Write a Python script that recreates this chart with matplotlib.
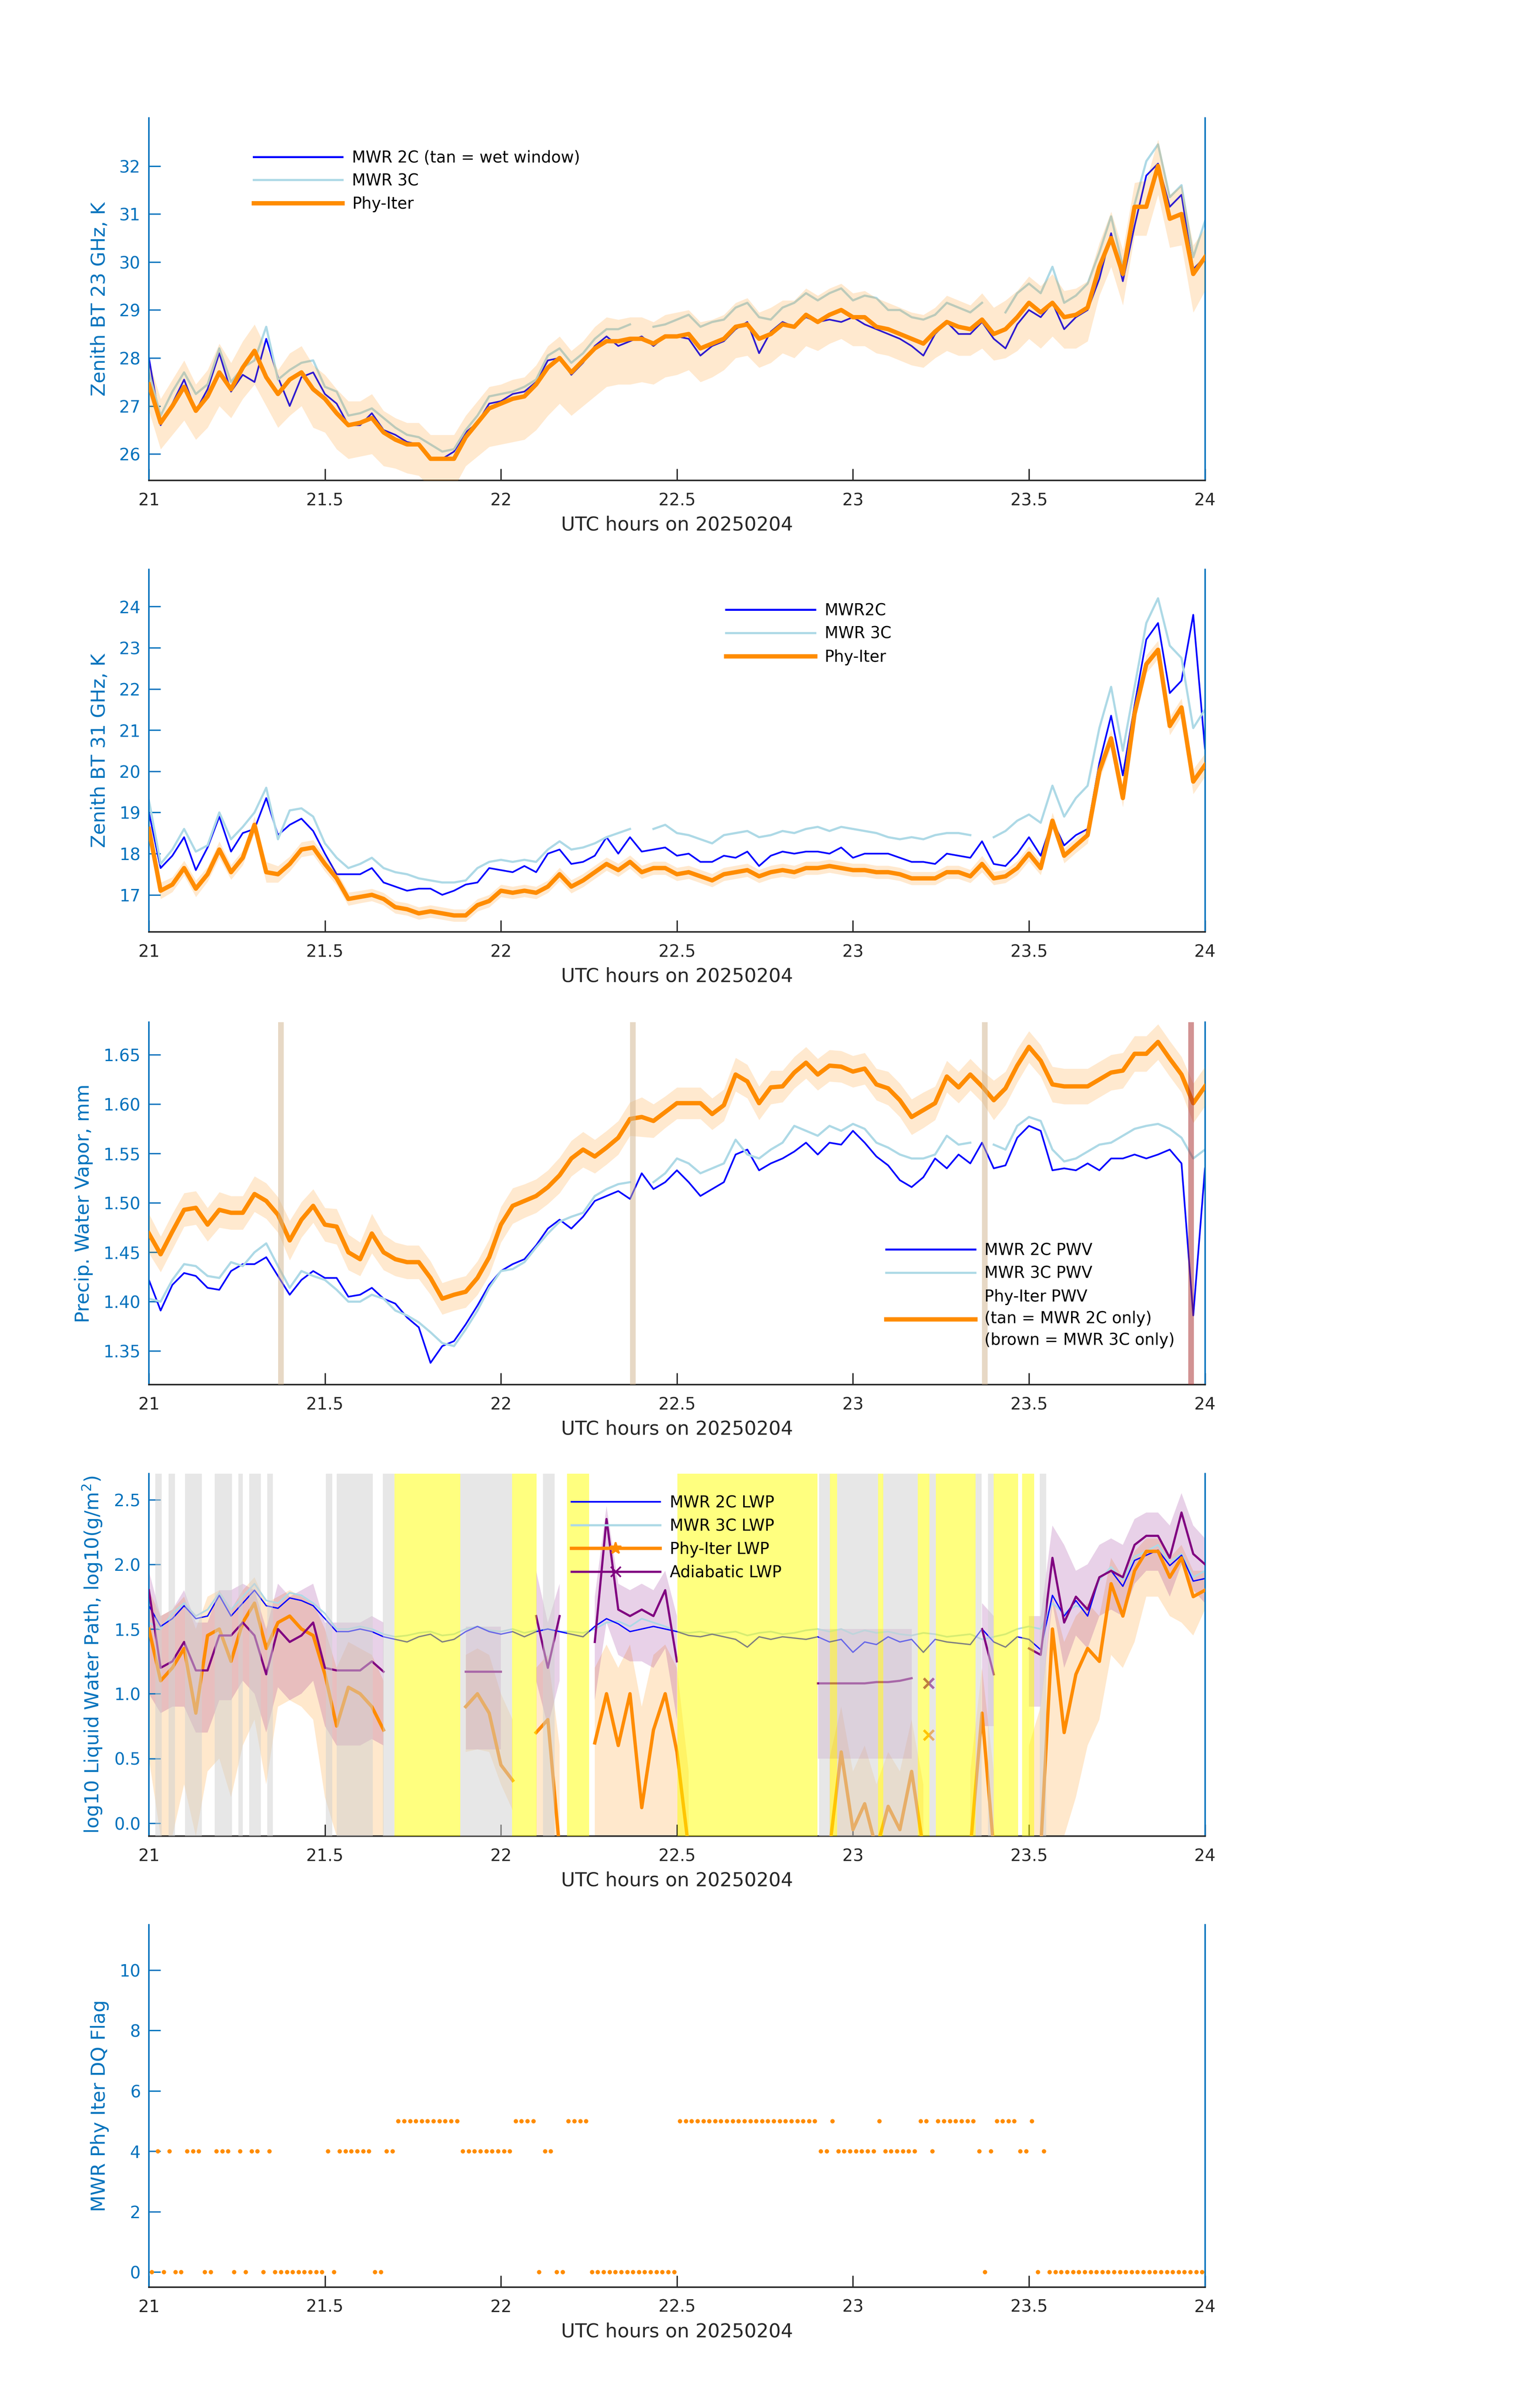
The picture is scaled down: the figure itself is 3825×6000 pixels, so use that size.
import numpy as np
import matplotlib
matplotlib.use("Agg")
import matplotlib.pyplot as plt
from matplotlib.lines import Line2D

nan = np.nan

# 2 minute time grid, 21 to 24 UTC
minutes = np.arange(0, 181, 2)
hours = 21 + minutes / 60.0

# ---- panel 1 : 23 GHz brightness temperature (K)
bt23_2c = [28.0, 26.6, 27.05, 27.55, 26.9, 27.35, 28.1, 27.3, 27.65, 27.5, 28.4,
           27.6, 27.0, 27.6, 27.7, 27.25, 27.05, 26.6, 26.6, 26.85, 26.5,
           26.4, 26.25, 26.2, 25.9, 25.9, 26.05, 26.45, 26.65, 27.05, 27.1,
           27.25, 27.3, 27.5, 27.95, 28.0, 27.65, 27.9, 28.25, 28.45, 28.25, 28.35, 28.45, 28.25, 28.45, 28.45,
           28.4, 28.05, 28.25, 28.35, 28.6, 28.75, 28.1, 28.55, 28.75, 28.65, 28.85, 28.75, 28.8, 28.75, 28.85,
           28.7, 28.6, 28.5, 28.4, 28.25, 28.05, 28.5, 28.75, 28.5, 28.5, 28.75, 28.4, 28.2, 28.7, 29.0,
           28.85, 29.15, 28.6, 28.85, 29.0, 29.65, 30.6, 29.6, 30.75, 31.8, 32.05, 31.15, 31.4, 29.85, 30.1]
bt23_3c = [27.7, 26.8, 27.3, 27.7, 27.25, 27.45, 28.2, 27.5, 27.8, 27.95, 28.65,
           27.55, 27.75, 27.9, 27.95, 27.4, 27.3, 26.8, 26.85, 26.95, 26.75,
           26.55, 26.4, 26.35, 26.2, 26.05, 26.1, 26.5, 26.8, 27.2, 27.25,
           27.3, 27.4, 27.55, 28.05, 28.2, 27.9, 28.1, 28.4, 28.6, 28.6, 28.7, nan, 28.65, 28.7, 28.8,
           28.9, 28.65, 28.75, 28.8, 29.05, 29.15, 28.85, 28.8, 29.05, 29.15, 29.35, 29.2, 29.35, 29.45, 29.2,
           29.3, 29.25, 29.0, 29.0, 28.85, 28.8, 28.9, 29.15, 29.05, 28.95, 29.15, nan, 28.95, 29.35, 29.55,
           29.35, 29.9, 29.15, 29.3, 29.55, 30.2, 30.95, 29.9, 31.2, 32.1, 32.45, 31.35, 31.6, 30.1, 30.85]
bt23_phy = [27.45, 26.65, 27.0, 27.4, 26.9, 27.2, 27.7, 27.35, 27.8, 28.15, 27.6,
            27.25, 27.55, 27.7, 27.35, 27.15, 26.85, 26.6, 26.65, 26.75, 26.45,
            26.3, 26.2, 26.2, 25.9, 25.9, 25.9, 26.35, 26.65, 26.95, 27.05,
            27.15, 27.2, 27.45, 27.8, 28.0, 27.7, 27.95, 28.2, 28.35, 28.35, 28.4, 28.4, 28.3, 28.45, 28.45,
            28.5, 28.2, 28.3, 28.4, 28.65, 28.7, 28.4, 28.5, 28.7, 28.65, 28.9, 28.75, 28.9, 29.0, 28.85,
            28.85, 28.65, 28.6, 28.5, 28.4, 28.3, 28.55, 28.75, 28.65, 28.6, 28.8, 28.5, 28.6, 28.85, 29.15,
            28.95, 29.15, 28.85, 28.9, 29.05, 29.9, 30.5, 29.75, 31.15, 31.15, 32.0, 30.9, 31.0, 29.75, 30.1]
bt23_dn = [0.55, 0.55, 0.6, 0.7, 0.6, 0.65, 0.7, 0.6, 0.65, 0.7, 0.6,
           0.7, 0.75, 0.7, 0.8, 0.7, 0.75, 0.7, 0.7, 0.75, 0.7,
           0.6, 0.6, 0.65, 0.6, 0.6, 0.6, 0.6, 0.7, 0.8, 0.85,
           0.9, 0.9, 0.95, 1.0, 0.95, 0.9, 0.95, 1.0, 0.95, 0.9, 0.95, 0.9, 0.85, 0.85, 0.8,
           0.75, 0.7, 0.7, 0.65, 0.65, 0.65, 0.6, 0.6, 0.6, 0.65, 0.65, 0.6, 0.6, 0.6, 0.6,
           0.6, 0.55, 0.55, 0.55, 0.55, 0.5, 0.55, 0.6, 0.6, 0.55, 0.6, 0.55, 0.6, 0.7, 0.75,
           0.75, 0.7, 0.65, 0.7, 0.7, 0.6, 0.6, 0.65, 0.6, 0.6, 0.6, 0.6, 0.65, 0.8, 0.7]
bt23_up = [0.5, 0.5, 0.55, 0.55, 0.55, 0.55, 0.6, 0.55, 0.55, 0.55, 0.6,
           0.5, 0.55, 0.55, 0.5, 0.5, 0.5, 0.5, 0.45, 0.5, 0.45,
           0.45, 0.45, 0.45, 0.5, 0.5, 0.5, 0.45, 0.45, 0.45, 0.4,
           0.4, 0.4, 0.4, 0.45, 0.45, 0.45, 0.4, 0.45, 0.5, 0.45, 0.45, 0.45, 0.45, 0.45, 0.5,
           0.5, 0.55, 0.5, 0.5, 0.5, 0.55, 0.55, 0.55, 0.5, 0.55, 0.55, 0.55, 0.55, 0.55, 0.5,
           0.55, 0.6, 0.55, 0.55, 0.55, 0.6, 0.5, 0.55, 0.55, 0.5, 0.55, 0.55, 0.6, 0.55, 0.55,
           0.55, 0.6, 0.55, 0.55, 0.55, 0.5, 0.55, 0.5, 0.5, 0.55, 0.55, 0.5, 0.6, 0.6, 0.6]

# ---- panel 2 : 31 GHz brightness temperature (K)
bt31_2c = [19.0, 17.65, 17.95, 18.4, 17.6, 18.15, 18.9, 18.05, 18.5, 18.6, 19.35,
           18.45, 18.7, 18.85, 18.55, 18.0, 17.5, 17.5, 17.5, 17.65, 17.3,
           17.2, 17.1, 17.15, 17.15, 17.0, 17.1, 17.25, 17.3, 17.65, 17.6,
           17.55, 17.7, 17.55, 18.0, 18.1, 17.75, 17.8, 17.95, 18.4, 18.0, 18.4, 18.05, 18.1, 18.15, 17.95,
           18.0, 17.8, 17.8, 17.95, 17.9, 18.05, 17.7, 17.95, 18.05, 18.0, 18.05, 18.05, 18.0, 18.15, 17.9,
           18.0, 18.0, 18.0, 17.9, 17.8, 17.8, 17.75, 18.0, 17.95, 17.9, 18.3, 17.75, 17.7, 18.0, 18.4,
           17.95, 18.8, 18.2, 18.45, 18.6, 20.2, 21.35, 19.9, 21.6, 23.2, 23.6, 21.9, 22.2, 23.8, 20.55]
bt31_3c = [19.3, 17.75, 18.1, 18.6, 18.05, 18.2, 19.0, 18.35, 18.65, 19.0, 19.6,
           18.35, 19.05, 19.1, 18.9, 18.25, 17.9, 17.65, 17.75, 17.9, 17.65,
           17.55, 17.5, 17.4, 17.35, 17.3, 17.3, 17.35, 17.65, 17.8, 17.85,
           17.8, 17.85, 17.8, 18.1, 18.3, 18.1, 18.15, 18.25, 18.4, 18.5, 18.6, nan, 18.6, 18.7, 18.5,
           18.45, 18.35, 18.25, 18.45, 18.5, 18.55, 18.4, 18.45, 18.55, 18.5, 18.6, 18.65, 18.55, 18.65, 18.6,
           18.55, 18.5, 18.4, 18.35, 18.4, 18.35, 18.45, 18.5, 18.5, 18.45, nan, 18.4, 18.55, 18.8, 18.95,
           18.75, 19.65, 18.9, 19.35, 19.65, 21.05, 22.05, 20.5, 22.05, 23.6, 24.2, 23.05, 22.75, 21.05, 21.5]
bt31_phy = [18.6, 17.1, 17.25, 17.65, 17.15, 17.5, 18.1, 17.55, 17.9, 18.7, 17.55,
            17.5, 17.75, 18.1, 18.15, 17.75, 17.4, 16.9, 16.95, 17.0, 16.9,
            16.7, 16.65, 16.55, 16.6, 16.55, 16.5, 16.5, 16.75, 16.85, 17.1,
            17.05, 17.1, 17.05, 17.2, 17.5, 17.2, 17.35, 17.55, 17.75, 17.6, 17.8, 17.55, 17.65, 17.65, 17.5,
            17.55, 17.45, 17.35, 17.5, 17.55, 17.6, 17.45, 17.55, 17.6, 17.55, 17.65, 17.65, 17.7, 17.65, 17.6,
            17.6, 17.55, 17.55, 17.5, 17.4, 17.4, 17.4, 17.55, 17.55, 17.45, 17.75, 17.4, 17.45, 17.65, 18.0,
            17.65, 18.8, 17.95, 18.2, 18.45, 20.0, 20.8, 19.35, 21.4, 22.6, 22.95, 21.1, 21.55, 19.75, 20.15]
bt31_unc = [0.25, 0.2, 0.18, 0.18, 0.2, 0.18, 0.2, 0.18, 0.18, 0.2, 0.25,
            0.2, 0.18, 0.18, 0.18, 0.18, 0.17, 0.16, 0.15, 0.15, 0.15,
            0.15, 0.15, 0.15, 0.15, 0.15, 0.15, 0.15, 0.15, 0.15, 0.15,
            0.15, 0.15, 0.15, 0.15, 0.16, 0.16, 0.16, 0.16, 0.16, 0.16, 0.16, 0.16, 0.16, 0.16, 0.16,
            0.16, 0.16, 0.16, 0.16, 0.16, 0.16, 0.16, 0.16, 0.16, 0.16, 0.16, 0.16, 0.16, 0.16, 0.16,
            0.16, 0.16, 0.16, 0.16, 0.16, 0.16, 0.16, 0.16, 0.16, 0.16, 0.2, 0.16, 0.16, 0.17, 0.18,
            0.17, 0.2, 0.18, 0.18, 0.2, 0.22, 0.22, 0.22, 0.22, 0.22, 0.22, 0.22, 0.22, 0.3, 0.28]

# ---- panel 3 : precipitable water vapour (mm)
pwv_2c = [1.422, 1.391, 1.417, 1.429, 1.426, 1.414, 1.412, 1.431, 1.438, 1.438, 1.445,
          1.426, 1.407, 1.422, 1.431, 1.424, 1.424, 1.405, 1.407, 1.414, 1.403,
          1.398, 1.384, 1.374, 1.338, 1.355, 1.360, 1.377, 1.396, 1.417, 1.431,
          1.438, 1.443, 1.457, 1.474, 1.483, 1.474, 1.486, 1.502, 1.507, 1.512, 1.504, 1.530, 1.514, 1.521, 1.533,
          1.521, 1.507, 1.514, 1.521, 1.549, 1.554, 1.533, 1.540, 1.545, 1.552, 1.561, 1.549, 1.561, 1.559, 1.573,
          1.561, 1.547, 1.538, 1.523, 1.516, 1.526, 1.545, 1.535, 1.549, 1.540, 1.561, 1.535, 1.538, 1.566, 1.578,
          1.573, 1.533, 1.535, 1.533, 1.540, 1.533, 1.545, 1.545, 1.549, 1.545, 1.549, 1.554, 1.540, 1.386, 1.535]
pwv_3c = [1.403, 1.400, 1.422, 1.438, 1.436, 1.426, 1.424, 1.440, 1.436, 1.450, 1.459,
          1.436, 1.414, 1.431, 1.426, 1.422, 1.412, 1.400, 1.400, 1.407, 1.403,
          1.391, 1.386, 1.379, 1.369, 1.358, 1.355, 1.372, 1.391, 1.414, 1.431,
          1.433, 1.440, 1.455, 1.469, 1.481, 1.486, 1.490, 1.507, 1.514, 1.519, 1.521, nan, 1.521, 1.530, 1.545,
          1.540, 1.530, 1.535, 1.540, 1.564, 1.549, 1.545, 1.554, 1.561, 1.578, 1.573, 1.568, 1.578, 1.573, 1.580,
          1.575, 1.561, 1.556, 1.549, 1.545, 1.545, 1.549, 1.568, 1.559, 1.561, nan, 1.559, 1.554, 1.578, 1.587,
          1.583, 1.554, 1.542, 1.545, 1.552, 1.559, 1.561, 1.568, 1.575, 1.578, 1.580, 1.575, 1.566, 1.545, 1.554]
pwv_phy = [1.469, 1.448, 1.471, 1.493, 1.495, 1.478, 1.493, 1.490, 1.490, 1.509, 1.502,
           1.488, 1.462, 1.483, 1.497, 1.478, 1.476, 1.450, 1.443, 1.469, 1.450,
           1.443, 1.440, 1.440, 1.424, 1.403, 1.407, 1.410, 1.424, 1.445, 1.478,
           1.497, 1.502, 1.507, 1.516, 1.528, 1.545, 1.554, 1.547, 1.556, 1.566, 1.585, 1.587, 1.583, 1.592, 1.601,
           1.601, 1.601, 1.590, 1.599, 1.630, 1.623, 1.601, 1.617, 1.618, 1.632, 1.642, 1.630, 1.639, 1.638, 1.633,
           1.636, 1.620, 1.616, 1.604, 1.587, 1.594, 1.601, 1.628, 1.617, 1.630, 1.618, 1.604, 1.616, 1.639, 1.658,
           1.644, 1.620, 1.618, 1.618, 1.618, 1.625, 1.632, 1.634, 1.651, 1.651, 1.663, 1.646, 1.630, 1.601, 1.618]
pwv_unc = [0.02, 0.018, 0.018, 0.017, 0.017, 0.017, 0.018, 0.017, 0.017, 0.018, 0.018,
           0.018, 0.02, 0.018, 0.017, 0.017, 0.018, 0.018, 0.017, 0.02, 0.018,
           0.017, 0.017, 0.017, 0.017, 0.016, 0.016, 0.016, 0.017, 0.018, 0.018,
           0.018, 0.017, 0.017, 0.017, 0.018, 0.018, 0.018, 0.017, 0.017, 0.017, 0.017, 0.02, 0.017, 0.016, 0.016,
           0.016, 0.016, 0.016, 0.016, 0.017, 0.017, 0.017, 0.017, 0.016, 0.016, 0.016, 0.016, 0.016, 0.016, 0.016,
           0.016, 0.016, 0.017, 0.017, 0.018, 0.018, 0.017, 0.016, 0.016, 0.016, 0.016, 0.02, 0.017, 0.017, 0.016,
           0.016, 0.018, 0.018, 0.018, 0.018, 0.018, 0.018, 0.018, 0.018, 0.018, 0.018, 0.018, 0.018, 0.02, 0.02]
tan_spans = [(21.367, 21.383), (22.367, 22.383), (23.367, 23.383)]
brown_spans = [(23.952, 23.968)]

# ---- panel 4 : log10 liquid water path
lwp_2c = [1.68, 1.52, 1.58, 1.68, 1.58, 1.60, 1.76, 1.60, 1.70, 1.80, 1.68,
          1.66, 1.74, 1.72, 1.68, 1.58, 1.48, 1.48, 1.50, 1.48, 1.44,
          1.42, 1.40, 1.44, 1.46, 1.40, 1.42, 1.48, 1.52, 1.48, 1.46,
          1.48, 1.44, 1.48, 1.50, 1.48, 1.46, 1.44, 1.52, 1.58, 1.54, 1.48, 1.50, 1.52, 1.50, 1.48,
          1.45, 1.44, 1.46, 1.44, 1.42, 1.36, 1.44, 1.42, 1.44, 1.43, 1.42, 1.44, 1.40, 1.42, 1.32,
          1.40, 1.38, 1.44, 1.40, 1.42, 1.32, 1.42, 1.40, 1.39, 1.38, 1.50, 1.40, 1.36, 1.44, 1.42,
          1.34, 1.76, 1.60, 1.72, 1.60, 1.90, 1.95, 1.83, 2.03, 2.07, 2.11, 1.99, 2.07, 1.87, 1.89]
lwp_3c = [1.55, 1.50, 1.62, 1.70, 1.60, 1.65, 1.78, 1.65, 1.75, 1.85, 1.72,
          1.70, 1.78, 1.76, 1.70, 1.62, 1.50, 1.50, 1.52, 1.50, 1.46,
          1.44, 1.45, 1.47, 1.48, 1.45, 1.46, 1.50, 1.52, 1.49, 1.48,
          1.50, 1.47, 1.49, 1.50, 1.48, 1.48, 1.47, 1.50, 1.55, 1.56, 1.52, 1.58, 1.55, 1.52, 1.48,
          1.47, 1.48, 1.46, 1.47, 1.48, 1.45, 1.47, 1.48, 1.46, 1.47, 1.49, 1.50, 1.48, 1.50, 1.46,
          1.49, 1.47, 1.48, 1.46, 1.45, 1.47, 1.46, 1.44, 1.45, 1.46, 1.42, 1.44, 1.46, 1.50, 1.52,
          1.50, 1.70, 1.62, 1.68, 1.65, 1.88, 1.98, 1.88, 2.06, 2.10, 2.15, 2.02, 2.08, 1.90, 1.95]
lwp_phy = [1.50, 1.10, 1.20, 1.35, 0.85, 1.45, 1.50, 1.25, 1.55, 1.70, 1.35,
           1.55, 1.60, 1.50, 1.45, 1.15, 0.75, 1.05, 1.00, 0.90, 0.72,
           nan, nan, nan, nan, nan, nan, 0.90, 1.00, 0.85, 0.45,
           0.33, nan, 0.70, 0.80, -0.2, nan, nan, 0.62, 1.00, 0.60, 1.00, 0.12, 0.72, 1.00, 0.55,
           -0.2, nan, nan, nan, nan, nan, nan, nan, nan, nan, nan, nan, -0.2, 0.55, -0.05,
           0.15, -0.2, 0.13, -0.05, 0.40, -0.2, nan, nan, nan, -0.2, 0.85, -0.2, nan, nan, -0.2,
           -0.2, 1.50, 0.70, 1.15, 1.35, 1.25, 1.85, 1.60, 1.95, 2.10, 2.10, 1.90, 2.05, 1.75, 1.80]
lwp_phy_lo = [0.5, -0.1, -0.1, 0.3, -0.1, 0.4, 0.5, 0.2, 0.6, 0.8, 0.3,
              0.9, 0.95, 0.9, 0.8, 0.2, -0.1, -0.1, -0.1, -0.1, -0.1,
              nan, nan, nan, nan, nan, nan, 0.55, 0.57, 0.55, 0.3,
              0.1, nan, -0.1, -0.1, -0.1, nan, nan, -0.1, -0.1, -0.1, -0.1, -0.1, -0.1, -0.1, -0.1,
              -0.1, nan, nan, nan, nan, nan, nan, nan, nan, nan, nan, nan, -0.1, -0.1, -0.1,
              -0.1, -0.1, -0.1, -0.1, -0.1, -0.1, nan, nan, nan, -0.1, -0.1, -0.1, nan, nan, -0.1,
              -0.1, -0.1, -0.1, 0.2, 0.6, 0.8, 1.3, 1.2, 1.4, 1.75, 1.75, 1.6, 1.55, 1.45, 1.65]
lwp_phy_hi = [1.8, 1.6, 1.65, 1.75, 1.5, 1.75, 1.8, 1.65, 1.8, 1.9, 1.7,
              1.75, 1.8, 1.75, 1.7, 1.5, 1.2, 1.4, 1.35, 1.3, 1.1,
              nan, nan, nan, nan, nan, nan, 1.3, 1.35, 1.3, 1.0,
              0.8, nan, 1.2, 1.3, 0.6, nan, nan, 1.2, 1.38, 1.2, 1.38, 0.9, 1.3, 1.38, 1.2,
              0.4, nan, nan, nan, nan, nan, nan, nan, nan, nan, nan, nan, 0.5, 0.9, 0.4,
              0.6, 0.3, 0.55, 0.4, 0.8, 0.3, nan, nan, nan, 0.4, 1.2, 0.4, nan, nan, 0.6,
              0.9, 1.75, 1.4, 1.6, 1.7, 1.6, 2.05, 1.9, 2.1, 2.2, 2.2, 2.05, 2.15, 1.95, 1.95]
lwp_adi = [1.80, 1.20, 1.25, 1.40, 1.18, 1.18, 1.45, 1.45, 1.55, 1.45, 1.15,
           1.50, 1.40, 1.45, 1.55, 1.20, 1.18, 1.18, 1.18, 1.25, 1.17,
           nan, nan, nan, nan, nan, nan, 1.17, 1.17, 1.17, 1.17,
           nan, nan, 1.60, 1.20, 1.60, nan, nan, 1.40, 2.35, 1.65, 1.60, 1.65, 1.60, 1.80, 1.25,
           nan, nan, nan, nan, nan, nan, nan, nan, nan, nan, nan, 1.08, 1.08, 1.08, 1.08,
           1.08, 1.09, 1.09, 1.10, 1.12, nan, nan, nan, nan, nan, 1.50, 1.15, nan, nan, 1.35,
           1.30, 2.05, 1.55, 1.75, 1.65, 1.90, 1.95, 1.90, 2.15, 2.22, 2.22, 2.05, 2.40, 2.08, 2.00]
lwp_adi_lo = [1.0, 0.85, 0.9, 0.9, 0.7, 0.7, 0.95, 0.95, 1.1, 1.0, 0.7,
              1.05, 0.95, 1.0, 1.1, 0.75, 0.6, 0.6, 0.6, 0.65, 0.6,
              nan, nan, nan, nan, nan, nan, 0.57, 0.57, 0.57, 0.57,
              nan, nan, 1.1, 0.75, 1.1, nan, nan, 0.95, 1.55, 1.3, 1.25, 1.25, 1.2, 1.35, 0.8,
              nan, nan, nan, nan, nan, nan, nan, nan, nan, nan, nan, 0.5, 0.5, 0.5, 0.5,
              0.5, 0.5, 0.5, 0.5, 0.5, nan, nan, nan, nan, nan, 0.75, 0.75, nan, nan, 0.9,
              0.9, 1.7, 1.2, 1.45, 1.35, 1.6, 1.65, 1.6, 1.85, 1.95, 1.95, 1.75, 2.0, 1.8, 1.7]
lwp_adi_hi = [1.95, 1.6, 1.65, 1.8, 1.55, 1.55, 1.8, 1.8, 1.85, 1.8, 1.5,
              1.85, 1.75, 1.8, 1.85, 1.55, 1.55, 1.55, 1.55, 1.6, 1.55,
              nan, nan, nan, nan, nan, nan, 1.52, 1.52, 1.52, 1.52,
              nan, nan, 1.95, 1.55, 1.85, nan, nan, 1.75, 2.45, 1.85, 1.8, 1.85, 1.8, 1.95, 1.6,
              nan, nan, nan, nan, nan, nan, nan, nan, nan, nan, nan, 1.5, 1.5, 1.5, 1.5,
              1.5, 1.5, 1.5, 1.5, 1.5, nan, nan, nan, nan, nan, 1.7, 1.6, nan, nan, 1.6,
              1.6, 2.3, 2.15, 1.95, 2.0, 2.15, 2.2, 2.15, 2.35, 2.4, 2.4, 2.3, 2.55, 2.3, 2.2]
single_time = [23.215]
single_phy = [0.68]
single_adi = [1.08]
gray_spans = [(21.018, 21.036), (21.056, 21.074), (21.103, 21.151), (21.187, 21.236),
              (21.254, 21.267), (21.285, 21.318), (21.336, 21.352), (21.503, 21.521),
              (21.534, 21.636), (21.665, 21.698), (21.885, 22.032), (22.119, 22.152),
              (22.904, 22.935), (22.955, 23.071), (23.086, 23.184), (23.217, 23.235),
              (23.348, 23.366), (23.384, 23.400), (23.531, 23.549)]
yellow_spans = [(21.698, 21.885), (22.032, 22.101), (22.188, 22.250), (22.501, 22.899),
                (22.935, 22.955), (23.071, 23.086), (23.184, 23.217), (23.235, 23.348),
                (23.400, 23.469), (23.481, 23.515)]

# ---- panel 5 : DQ flag, one value per minute
dq_flag = [0, 4, 0, 4, 0, 0, 4, 4, 4, 0, 0, 4, 4, 4, 0, 4, 0, 4, 4, 0,
           4, 0, 0, 0, 0, 0, 0, 0, 0, 0, 4, 0, 4, 4, 4, 4, 4, 4, 0, 0,
           4, 4, 5, 5, 5, 5, 5, 5, 5, 5, 5, 5, 5, 4, 4, 4, 4, 4, 4, 4,
           4, 4, 5, 5, 5, 5, 0, 4, 4, 0, 0, 5, 5, 5, 5, 0, 0, 0, 0, 0,
           0, 0, 0, 0, 0, 0, 0, 0, 0, 0, 5, 5, 5, 5, 5, 5, 5, 5, 5, 5,
           5, 5, 5, 5, 5, 5, 5, 5, 5, 5, 5, 5, 5, 5, 4, 4, 5, 4, 4, 4,
           4, 4, 4, 4, 5, 4, 4, 4, 4, 4, 4, 5, 5, 4, 5, 5, 5, 5, 5, 5,
           5, 4, 0, 4, 5, 5, 5, 5, 4, 4, 5, 0, 4, 0, 0, 0, 0, 0, 0, 0,
           0, 0, 0, 0, 0, 0, 0, 0, 0, 0, 0, 0, 0, 0, 0, 0, 0, 0, 0, 0]
dq_hours = 21 + (np.arange(len(dq_flag)) + 0.5) / 60.0

# colours
c_2c = (0, 0, 1)
c_3c = (0.68, 0.85, 0.90)
c_phy = (1.0, 0.55, 0.0)
c_adi = (0.5, 0.0, 0.5)
axis_blue = (0, 0.447, 0.741)
dark = (0.15, 0.15, 0.15)

xticks = [21, 21.5, 22, 22.5, 23, 23.5, 24]
xticklabels = ['21', '21.5', '22', '22.5', '23', '23.5', '24']


def style_axis(ax, ylim, yticks, ylabel):
    ax.set_xlim(21, 24)
    ax.set_ylim(*ylim)
    ax.set_xticks(xticks)
    ax.set_xticklabels(xticklabels)
    ax.set_yticks(yticks)
    ax.spines['top'].set_visible(False)
    ax.spines['left'].set_color(axis_blue)
    ax.spines['right'].set_color(axis_blue)
    ax.spines['bottom'].set_color(dark)
    for s in ax.spines.values():
        s.set_linewidth(0.9)
    ax.tick_params(axis='x', direction='in', length=7, width=0.8, colors=dark,
                   labelsize=10, pad=7)
    ax.tick_params(axis='y', direction='in', length=7, width=0.8, colors=axis_blue,
                   labelsize=10, pad=5)
    ax.set_xlabel('UTC hours on 20250204', fontsize=11.5, color=dark, labelpad=4)
    ax.set_ylabel(ylabel, fontsize=11.5, color=axis_blue, labelpad=6)


def add_legend(ax, handles, labels, x, y):
    leg = ax.legend(handles, labels, loc='upper left', bbox_to_anchor=(x, y),
                    frameon=False, fontsize=9.5, handlelength=5.6, handletextpad=0.6,
                    labelspacing=0.45, borderpad=0, borderaxespad=0)
    leg.set_zorder(20)
    return leg


fig = plt.figure(figsize=(12.75, 20), dpi=300)
left = 0.097
width = 0.688
height = 0.1505
bottoms = [0.8005, 0.613, 0.425, 0.2375, 0.0502]
axes = [fig.add_axes([left, b, width, height]) for b in bottoms]

# panel 1
ax = axes[0]
ax.plot(hours, bt23_2c, color=c_2c, lw=1.0, zorder=2)
ax.plot(hours, bt23_3c, color=c_3c, lw=1.3, zorder=2)
ax.fill_between(hours, np.array(bt23_phy) - np.array(bt23_dn), np.array(bt23_phy) + np.array(bt23_up),
                color=c_phy, alpha=0.19, lw=0, zorder=3)
ax.plot(hours, bt23_phy, color=c_phy, lw=2.6, zorder=4)
style_axis(ax, (25.45, 33.0), [26, 27, 28, 29, 30, 31, 32], 'Zenith BT 23 GHz, K')
add_legend(ax, [Line2D([], [], color=c_2c, lw=1.2), Line2D([], [], color=c_3c, lw=1.3),
                Line2D([], [], color=c_phy, lw=2.6)],
           ['MWR 2C (tan = wet window)', 'MWR 3C', 'Phy-Iter'], 0.099, 0.912)

# panel 2
ax = axes[1]
ax.plot(hours, bt31_2c, color=c_2c, lw=1.0, zorder=2)
ax.plot(hours, bt31_3c, color=c_3c, lw=1.3, zorder=2)
ax.fill_between(hours, np.array(bt31_phy) - np.array(bt31_unc), np.array(bt31_phy) + np.array(bt31_unc),
                color=c_phy, alpha=0.19, lw=0, zorder=3)
ax.plot(hours, bt31_phy, color=c_phy, lw=2.6, zorder=4)
style_axis(ax, (16.1, 24.9), [17, 18, 19, 20, 21, 22, 23, 24], 'Zenith BT 31 GHz, K')
add_legend(ax, [Line2D([], [], color=c_2c, lw=1.2), Line2D([], [], color=c_3c, lw=1.3),
                Line2D([], [], color=c_phy, lw=2.6)],
           ['MWR2C', 'MWR 3C', 'Phy-Iter'], 0.5465, 0.908)

# panel 3
ax = axes[2]
ax.plot(hours, pwv_2c, color=c_2c, lw=1.0, zorder=2)
ax.plot(hours, pwv_3c, color=c_3c, lw=1.3, zorder=2)
ax.fill_between(hours, np.array(pwv_phy) - np.array(pwv_unc), np.array(pwv_phy) + np.array(pwv_unc),
                color=c_phy, alpha=0.19, lw=0, zorder=3)
ax.plot(hours, pwv_phy, color=c_phy, lw=2.6, zorder=4)
for a, b in tan_spans:
    ax.axvspan(a, b, color=(0.82, 0.70, 0.55), alpha=0.5, lw=0, zorder=5)
for a, b in brown_spans:
    ax.axvspan(a, b, color=(0.65, 0.16, 0.16), alpha=0.5, lw=0, zorder=5)
style_axis(ax, (1.316, 1.683), [1.35, 1.4, 1.45, 1.5, 1.55, 1.6, 1.65], 'Precip. Water Vapor, mm')
leg = add_legend(ax, [Line2D([], [], color=c_2c, lw=1.2), Line2D([], [], color=c_3c, lw=1.3),
                      Line2D([], [], color=c_phy, lw=2.6)],
                 ['MWR 2C PWV', 'MWR 3C PWV', 'Phy-Iter PWV\n(tan = MWR 2C only)\n(brown = MWR 3C only)'],
                 0.698, 0.392)
leg.get_texts()[2].set_linespacing(1.45)

# panel 4
ax = axes[3]
ax.fill_between(hours, lwp_phy_lo, lwp_phy_hi, color=c_phy, alpha=0.2, lw=0, zorder=1)
ax.fill_between(hours, lwp_adi_lo, lwp_adi_hi, color=c_adi, alpha=0.18, lw=0, zorder=1)
ax.plot(hours, lwp_3c, color=c_3c, lw=1.0, zorder=2)
ax.plot(hours, lwp_2c, color=c_2c, lw=0.8, zorder=2)
ax.plot(hours, lwp_phy, color=c_phy, lw=2.0, zorder=3)
ax.plot(hours, lwp_adi, color=c_adi, lw=1.3, zorder=3)
ax.plot(single_time, single_phy, 'x', color=c_phy, ms=6, mew=1.5, zorder=3)
ax.plot(single_time, single_adi, 'x', color=c_adi, ms=6, mew=1.5, zorder=3)
for a, b in gray_spans:
    ax.axvspan(a, b, color=(0.82, 0.82, 0.82), alpha=0.5, lw=0, zorder=5)
for a, b in yellow_spans:
    ax.axvspan(a, b, color=(1.0, 1.0, 0.0), alpha=0.5, lw=0, zorder=5)
style_axis(ax, (-0.1, 2.7), [0, 0.5, 1, 1.5, 2, 2.5], 'log10 Liquid Water Path, log10(g/m$^2$)')
add_legend(ax, [Line2D([], [], color=c_2c, lw=1.0), Line2D([], [], color=c_3c, lw=1.3),
                Line2D([], [], color=c_phy, lw=2.0, marker='*', ms=7, markevery=[1]),
                Line2D([], [], color=c_adi, lw=1.3, marker='x', ms=6, markevery=[1])],
           ['MWR 2C LWP', 'MWR 3C LWP', 'Phy-Iter LWP', 'Adiabatic LWP'], 0.40, 0.941)

# panel 5
ax = axes[4]
ax.plot(dq_hours, dq_flag, 'o', color=c_phy, ms=2.6, mew=0, zorder=3)
style_axis(ax, (-0.5, 11.5), [0, 2, 4, 6, 8, 10], 'MWR Phy Iter DQ Flag')

fig.savefig('out.png', dpi=300)
